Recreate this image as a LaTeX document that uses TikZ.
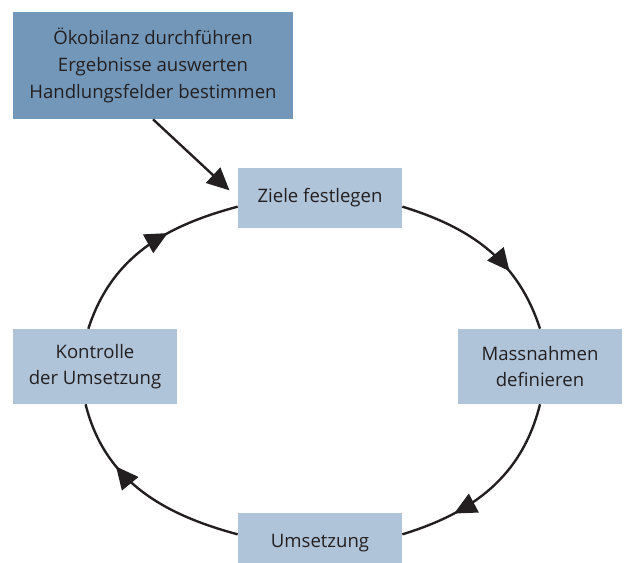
\documentclass[tikz,border=0pt]{standalone}
\usepackage{fontspec}
\setmainfont{Open Sans}
\usetikzlibrary{arrows.meta, decorations.markings}
\definecolor{dunkelblau}{HTML}{7397B9}
\definecolor{hellblau}{HTML}{B0C4D9}
\definecolor{schrift}{HTML}{231F20}

\begin{document}
\begin{tikzpicture}[x=0.025cm, y=0.025cm, >={Triangle[length=0.56cm, width=0.52cm]},
  box/.style={fill=hellblau, text=schrift, minimum width=4.1cm, minimum height=1.5cm,
    inner sep=0pt, align=center, font=\fontsize{13.2}{18.9}\selectfont},
  kreis/.style={line width=1.7pt, draw=schrift},
  pfeil/.style={postaction={decorate},
    decoration={markings, mark=at position #1 with {\arrow{>}}}}]
\clip (0,0) rectangle (626,562);
\node[box, fill=dunkelblau, minimum width=7cm, minimum height=2.675cm] (oeko) at (153,496.5)
  {Ökobilanz durchführen\\Ergebnisse auswerten\\Handlungsfelder bestimmen};
\node[box] (ziele) at (320,364) {Ziele festlegen};
\node[box, minimum height=1.875cm] (massn) at (540,195.5) {Massnahmen\\definieren};
\node[box] (umsetz) at (320,19) {Umsetzung};
\node[box, minimum height=1.875cm] (kontr) at (95,195.5) {Kontrolle\\der Umsetzung};
% Zyklus
\draw[kreis, pfeil=0.66] (ziele.-6) to[out=-17, in=108] (massn.north);
\draw[kreis, pfeil=0.72] (massn.south) to[out=-104, in=17] (umsetz.6);
\draw[kreis, pfeil=0.67] (umsetz.174) to[out=165, in=-76] (kontr.-104);
\draw[kreis, pfeil=0.63] (kontr.100) to[out=72, in=195] (ziele.186);
% Einstieg
\draw[kreis, ->, shorten >=0.28cm] (oeko.south) -- (ziele.west);
\end{tikzpicture}
\end{document}
